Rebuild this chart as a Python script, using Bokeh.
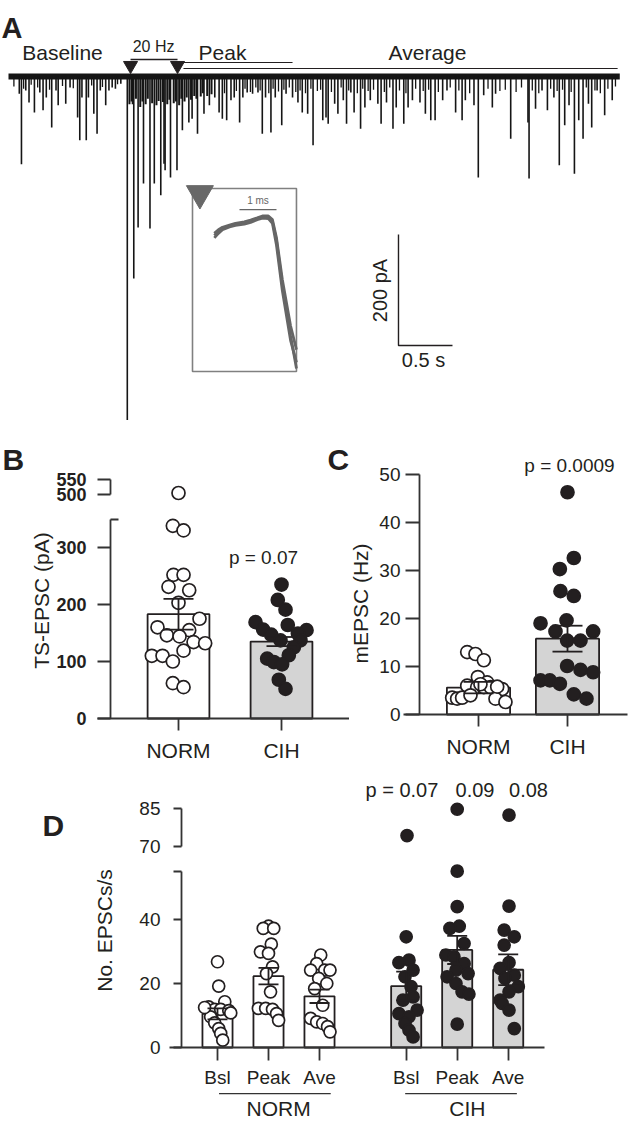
import math
from bokeh.plotting import figure
from bokeh.models import Range1d, LinearAxis, FixedTicker, Whisker, TeeHead, ColumnDataSource
from bokeh.layouts import column, row
from bokeh.embed import file_html
from bokeh.resources import INLINE
from bokeh.core.properties import value

# ======================= DATA =======================
# ---- Panel A: whole-cell recording (time s, inward current pA) ----
trace_end_s = 5.66
stim_times = [1.13, 1.565]          # first / last shock of the 20 Hz train
peak_window = [1.62, 2.63]
average_window = [1.62, 5.64]
event_t = [0.10, 0.12, 0.16, 0.19, 0.24, 0.29, 0.32, 0.35, 0.40, 0.44, 0.46, 0.53, 0.57,
           0.64, 0.66, 0.68, 0.72, 0.74, 0.79, 0.82, 0.85, 0.90, 0.93, 0.96, 0.99, 1.04,
           1.10, 1.16, 1.20, 1.25, 1.31, 1.35, 1.41, 1.44, 1.45, 1.50, 1.56, 1.61, 1.67,
           1.70, 1.75, 1.81, 1.86, 1.91, 1.95, 1.98, 2.02, 2.06, 2.09, 2.14, 2.17, 2.21,
           2.26, 2.31, 2.35, 2.38, 2.43, 2.47, 2.53, 2.57, 2.63, 2.68, 2.72, 2.77, 2.82,
           2.91, 2.94, 2.96, 3.02, 3.05, 3.10, 3.13, 3.17, 3.20, 3.26, 3.30, 3.35, 3.42,
           3.45, 3.50, 3.56, 3.59, 3.66, 3.70, 3.74, 3.81, 3.86, 3.91, 3.95, 4.02, 4.06,
           4.14, 4.20, 4.23, 4.31, 4.35, 4.40, 4.48, 4.51, 4.65, 4.81, 4.82, 4.88, 4.94,
           4.99, 5.05, 5.10, 5.15, 5.19, 5.24, 5.28, 5.32, 5.37, 5.40, 5.45, 5.52, 5.59]
event_pA = [31, 158, 25, 47, 65, 29, 61, 38, 92, 25, 52, 49, 20,
            74, 115, 38, 115, 38, 67, 103, 25, 52, 25, 20, 22, 13,
            619, 364, 272, 193, 274, 193, 214, 157, 169, 182, 169, 97, 83,
            76, 103, 67, 52, 38, 65, 76, 79, 43, 38, 83, 38, 29,
            31, 29, 103, 38, 101, 38, 88, 31, 38, 47, 65, 67, 124,
            79, 74, 85, 49, 67, 43, 85, 29, 65, 94, 56, 43, 49,
            85, 47, 94, 56, 85, 56, 43, 47, 67, 79, 79, 43, 25,
            65, 79, 43, 52, 182, 34, 56, 31, 112, 83, 184, 58, 25,
            61, 38, 160, 88, 52, 175, 79, 112, 49, 92, 25, 70, 43]
small_t = [0.05, 0.14, 0.21, 0.27, 0.38, 0.50, 0.60, 0.77, 0.87, 1.01, 2.00, 2.11, 2.19,
           2.24, 2.29, 2.33, 2.41, 2.45, 2.50, 2.55, 2.60, 2.66, 2.70, 2.75, 2.80, 2.86,
           2.89, 2.99, 3.08, 3.15, 3.23, 3.28, 3.33, 3.38, 3.48, 3.53, 3.62, 3.68, 3.77,
           3.84, 3.89, 3.98, 4.09, 4.17, 4.27, 4.44, 4.55, 4.60, 4.70, 4.75, 4.85, 4.91,
           5.02, 5.08, 5.13, 5.21, 5.35, 5.43, 5.48, 5.55, 5.62]
small_pA = [18, 22, 15, 20, 24, 17, 21, 16, 19, 14, 30, 26, 22,
            28, 20, 25, 30, 22, 27, 24, 20, 28, 25, 30, 22, 26,
            24, 28, 20, 25, 30, 22, 26, 24, 28, 20, 25, 30, 22,
            26, 24, 28, 20, 25, 30, 22, 26, 24, 28, 20, 25, 30,
            22, 26, 24, 28, 20, 25, 30, 22, 18]
train_t = [1.12, 1.14, 1.15, 1.18, 1.22, 1.24, 1.27, 1.29, 1.33, 1.37, 1.39, 1.43, 1.47,
           1.49, 1.53, 1.55, 1.58, 1.60, 1.63, 1.65, 1.69, 1.72, 1.74, 1.78, 1.80, 1.84, 1.88]
train_pA = [50, 45, 50, 40, 55, 45, 50, 40, 48, 52, 44, 46, 50,
            42, 48, 45, 52, 40, 45, 38, 42, 35, 40, 36, 30, 35, 32]
# inset: superimposed evoked responses (ms, a.u.)
inset_ms = [0.59, 0.70, 0.81, 1.00, 1.16, 1.40, 1.57, 1.75, 1.89, 2.05, 2.16, 2.27, 2.43, 2.65, 2.81]
inset_traces = [
    [74.3, 76.5, 78.1, 79.5, 80.3, 81.2, 82.0, 83.5, 84.2, 84.2, 82.0, 71.6, 47.0, 19.7, 1.6],
    [75.5, 77.5, 78.8, 80.0, 81.0, 81.8, 82.8, 84.0, 85.0, 85.0, 83.0, 73.0, 50.0, 25.0, 12.0],
    [73.0, 75.5, 77.5, 79.0, 79.8, 80.5, 81.5, 83.0, 83.8, 83.6, 81.0, 69.0, 44.0, 17.0, 5.0],
]
scalebar_pA = 200
scalebar_s = 0.5
inset_scale_ms = 1

# ---- Panel B: TS-EPSC amplitude (pA) ----
groups = ["NORM", "CIH"]
ts_mean = [183, 135]
ts_sem = [27, 8]
ts_norm = [505, 338, 330, 252, 252, 231, 225, 203, 175, 160, 155, 146, 144, 134, 132,
           110, 110, 119, 100, 62, 55]
ts_norm_dx = [0, -0.055, 0.049, -0.049, 0.049, -0.097, 0.104, 0, 0.204, -0.204, 0.104,
              -0.113, 0.010, 0.146, 0.259, -0.259, -0.155, 0.049, -0.055, -0.055, 0.049]
ts_cih = [235, 208, 191, 169, 156, 164, 155, 147, 149, 137, 137, 125, 111, 105, 99, 95, 68, 52]
ts_cih_dx = [0, -0.036, 0.039, -0.252, -0.178, 0.061, 0.243, -0.100, 0.159, -0.010, 0.184,
             0.120, 0.071, -0.139, -0.074, 0.006, -0.026, 0.039]
ts_p = "p = 0.07"

# ---- Panel C: mEPSC frequency (Hz) ----
mf_mean = [5.6, 15.8]
mf_sem = [1.2, 2.7]
mf_norm = [13.0, 12.6, 11.3, 7.8, 6.7, 6.0, 5.7, 5.7, 5.7, 5.3, 3.5, 3.3, 3.5, 4.0, 3.3, 2.6, 5.8, 6.3]
mf_norm_dx = [-0.127, -0.034, 0.060, -0.007, 0.097, -0.127, -0.015, 0.060, 0.135, 0.266,
              -0.296, -0.240, -0.184, -0.090, 0.191, 0.303, 0.210, 0.022]
mf_cih = [46.3, 32.6, 30.3, 25.7, 24.7, 19.0, 19.6, 17.3, 17.3, 15.4, 15.4, 10.1, 9.3, 8.8,
          7.1, 7.1, 6.4, 4.2, 3.3]
mf_cih_dx = [0, 0.071, -0.086, -0.079, 0.071, -0.303, -0.011, -0.135, 0.288, -0.004, 0.146,
             -0.004, 0.146, 0.288, -0.303, -0.199, -0.086, 0.071, 0.213]
mf_p = "p = 0.0009"

# ---- Panel D: EPSCs per second ----
phases = ["Bsl", "Peak", "Ave"]
ep_norm_mean = [10.5, 22.3, 16.0]
ep_norm_sem = [1.7, 2.6, 2.1]
ep_cih_mean = [19.2, 30.5, 24.3]
ep_cih_sem = [4.5, 4.4, 4.8]
ep_norm = [
    [26.8, 19.2, 14.3, 12.7, 11.9, 11.9, 11.5, 9.6, 7.7, 5.9, 4.4, 2.3, 12.5, 10.8],
    [37.9, 37.2, 37.2, 32.3, 29.9, 29.4, 25.2, 23.1, 17.4, 12.2, 12.2, 11.9, 10.6, 8.5],
    [28.9, 26.2, 24.2, 24.2, 24.2, 21.6, 20.0, 18.4, 13.2, 9.1, 8.0, 7.5, 6.5, 4.9],
]
ep_norm_dx = [
    [0, 0.024, 0.143, -0.174, -0.055, 0.063, 0.222, -0.135, -0.055, 0.024, 0.063, 0.103, -0.253, 0.26],
    [0, -0.103, 0.103, 0.055, -0.158, 0, 0.079, -0.040, 0.040, -0.198, -0.055, 0.079, 0.158, 0.198],
    [0.024, -0.055, 0.103, -0.174, 0.206, -0.016, 0.143, -0.095, 0.063, -0.174, -0.055, 0.063, 0.158, 0.206],
]
ep_cih = [
    [74.3, 34.6, 27.3, 26.5, 24.2, 22.1, 19.0, 15.8, 14.8, 11.7, 10.6, 9.6, 7.5, 5.4, 3.3],
    [84.7, 55.1, 44.0, 37.9, 37.2, 32.5, 28.9, 28.3, 26.2, 24.2, 23.1, 22.1, 20.0, 17.4, 16.7, 7.3],
    [82.4, 44.2, 36.7, 34.6, 32.0, 26.5, 24.7, 22.6, 21.6, 19.0, 17.4, 14.8, 13.8, 11.7, 5.9],
]
ep_cih_dx = [
    [0.016, 0, 0.055, -0.143, 0.135, -0.024, 0.095, 0.135, -0.063, 0.214, -0.143, 0.055, -0.024, 0.055, 0.135],
    [0, 0, 0, 0.040, -0.143, 0.135, -0.222, -0.063, 0.135, -0.024, 0.214, -0.198, -0.024, 0.095, 0.230, 0],
    [0.016, 0.016, -0.079, 0.119, -0.079, 0.016, -0.158, 0.119, -0.063, 0.198, 0.016, -0.158, -0.119, 0.016, 0.119],
]
ep_p = ["p = 0.07", "0.09", "0.08"]

# ======================= STYLE =======================
FONT = "Liberation Sans"
INK = "#231f20"
AXC = "#333333"
GREY_BAR = "#d4d4d4"


def make_fig(w, h, xr, yr):
    p = figure(width=w, height=h, x_range=Range1d(*xr), y_range=Range1d(*yr),
               x_axis_type=None, y_axis_type=None, toolbar_location=None,
               output_backend="svg", min_border=0)
    p.outline_line_color = None
    p.background_fill_color = "white"
    p.border_fill_color = "white"
    return p


def add_axis(p, side, loc, ticks, bounds, size, bold=False, tick_out=10, standoff=8,
             overrides=None, range_name=None, line=True, tick_in=0, ticks_visible=True):
    ax = LinearAxis(fixed_location=loc, bounds=bounds,
                    ticker=FixedTicker(ticks=ticks, minor_ticks=[]))
    if range_name:
        ax.y_range_name = range_name
    ax.axis_line_color = AXC if line else None
    ax.axis_line_width = 1.8
    ax.major_tick_line_color = AXC if (line or ticks_visible and tick_in) else None
    ax.major_tick_line_width = 1.8
    ax.major_tick_out = tick_out
    ax.major_tick_in = tick_in
    ax.minor_tick_line_color = None
    ax.major_label_text_font = FONT
    ax.major_label_text_font_size = f"{size}px"
    ax.major_label_text_font_style = "bold" if bold else "normal"
    ax.major_label_text_color = INK
    ax.major_label_standoff = standoff
    if overrides:
        ax.major_label_overrides = overrides
    p.add_layout(ax, side)
    return ax


def add_title_axis(p, loc, bounds, label, standoff):
    ax = LinearAxis(fixed_location=loc, bounds=bounds, ticker=FixedTicker(ticks=[], minor_ticks=[]),
                    axis_label=label, axis_line_color=None, major_tick_line_color=None,
                    minor_tick_line_color=None, major_tick_out=0, major_tick_in=0,
                    major_label_standoff=0, axis_label_standoff=standoff,
                    axis_label_text_font=FONT, axis_label_text_font_size="21px",
                    axis_label_text_font_style="normal", axis_label_text_color=INK)
    p.add_layout(ax, "left")


def txt(p, x, y, s, size, align="center", baseline="middle", bold=False, color=INK,
        angle=0.0, **kw):
    p.text(x=[x], y=[y], text=[s], text_font=value(FONT), text_font_size=f"{size}px",
           text_font_style="bold" if bold else "normal", text_align=align,
           text_baseline=baseline, text_color=color, angle=angle, **kw)


def points(p, xc, vals, dxs, filled, size, brk=None, scale=1.0):
    lo_x, lo_y, hi_x, hi_y = [], [], [], []
    for v, d in zip(vals, dxs):
        if brk is not None and v > brk:
            hi_x.append(xc + d * scale); hi_y.append(v)
        else:
            lo_x.append(xc + d * scale); lo_y.append(v)
    kw = dict(size=size, line_color=INK, line_width=1.7,
              fill_color=INK if filled else "white")
    if lo_x:
        p.scatter(lo_x, lo_y, **kw)
    if hi_x:
        p.scatter(hi_x, hi_y, y_range_name="up", **kw)


def whiskers(p, xs, means, sems, cap):
    src = ColumnDataSource(dict(x=xs, upper=[m + s for m, s in zip(means, sems)],
                                lower=[m - s for m, s in zip(means, sems)]))
    w = Whisker(source=src, base="x", upper="upper", lower="lower", line_color=INK,
                line_width=1.8, level="overlay",
                upper_head=TeeHead(size=cap, line_color=INK, line_width=1.8),
                lower_head=TeeHead(size=cap, line_color=INK, line_width=1.8))
    p.add_layout(w)


# ======================= PANEL A =======================
A_W, A_H = 630, 432
PX_S, PX_PA = 108.0, 0.555      # px per second, px per pA
A_X0, A_Y0 = 8, 76              # where t=0 / 0 pA sit in the panel
pA = make_fig(A_W, A_H, (-A_X0 / PX_S, (A_W - A_X0) / PX_S),
              ((A_Y0 - A_H) / PX_PA, A_Y0 / PX_PA))
pA.extra_x_ranges = {"ix": Range1d(-192 / 37.0, (A_W - 192) / 37.0)}
pA.extra_y_ranges = {"iy": Range1d((371 - A_H) / 1.83, 371 / 1.83)}

pA.line(x=[0, trace_end_s], y=[0, 0], line_width=6, line_color="#151515")
for ts, amps, lw in ((small_t, small_pA, 1.3), (train_t, train_pA, 2.0), (event_t, event_pA, 1.6)):
    pA.segment(x0=ts, y0=[0] * len(ts), x1=ts, y1=[-a for a in amps],
               line_color="#151515", line_width=lw)

# stimulus markers and analysis windows
pA.segment(x0=[stim_times[0]], y0=[30.6], x1=[stim_times[1]], y1=[30.6], line_color=INK, line_width=1.3)
pA.scatter(stim_times, [19.8, 19.8], marker="inverted_triangle", size=14, color=INK)
pA.segment(x0=[peak_window[0], average_window[0]], y0=[25.2, 14.4],
           x1=[peak_window[1], average_window[1]], y1=[25.2, 14.4], line_color=INK, line_width=1.2)
txt(pA, 0.50, 43.2, "Baseline", 21)
txt(pA, 1.343, 54.1, "20 Hz", 16)
txt(pA, 1.76, 43.2, "Peak", 21, align="left")
txt(pA, 3.88, 43.2, "Average", 21)
txt(pA, -0.065, 86.5, "A", 29, align="left", baseline="alphabetic", bold=True)

# scale bar
sb_t, sb_y = 3.611, -484.7
pA.line(x=[sb_t, sb_t, sb_t + scalebar_s], y=[sb_y + scalebar_pA, sb_y, sb_y],
        line_color=INK, line_width=1.4)
txt(pA, 3.44, -385.6, f"{scalebar_pA} pA", 20, angle=math.pi / 2)
txt(pA, 3.843, -511.7, f"{scalebar_s} s", 20)

# inset
GRAY = "#666666"
pA.quad(left=[0], right=[2.81], bottom=[0], top=[100], fill_color=None, line_color="#808080",
        line_width=1.6, x_range_name="ix", y_range_name="iy")
pA.multi_line(xs=[inset_ms] * len(inset_traces), ys=inset_traces, line_color=GRAY,
              line_width=2.8, x_range_name="ix", y_range_name="iy")
pA.scatter([0.2], [97.3], marker="inverted_triangle", size=27, color="#686868",
           x_range_name="ix", y_range_name="iy")
pA.segment(x0=[1.27], y0=[88.5], x1=[1.27 + inset_scale_ms], y1=[88.5], line_color=GRAY,
           line_width=1.2, x_range_name="ix", y_range_name="iy")
txt(pA, 1.77, 90.5, f"{inset_scale_ms} ms", 10, baseline="bottom", color=GRAY,
    x_range_name="ix", y_range_name="iy")

# ======================= PANEL B =======================
B_W, B_H = 349, 338
bcx, bpc, bpv, bpu = 178, 103.0, 0.57, 0.30
pB = make_fig(B_W, B_H, (-bcx / bpc, (B_W - bcx) / bpc), (-(B_H - 286) / bpv, 286 / bpv))
pB.extra_y_ranges = {"up": Range1d(500 - (B_H - 62) / bpu, 500 + 62 / bpu)}
bx = [0, 1]
pB.vbar(x=bx, top=ts_mean, bottom=0, width=0.60, fill_color=["white", GREY_BAR],
        line_color=INK, line_width=1.8)
points(pB, 0, ts_norm, ts_norm_dx, False, 13, brk=400)
points(pB, 1, ts_cih, ts_cih_dx, True, 13, brk=400)
whiskers(pB, bx, ts_mean, ts_sem, 30)
b_yloc = (110 - bcx) / bpc
add_axis(pB, "left", b_yloc, [0, 100, 200, 300], (0, 350), 18, bold=True,
         tick_out=13, standoff=11)
# break mark at the top of the lower segment (points inward)
add_axis(pB, "left", b_yloc, [350], (300, 350), 18, tick_out=0, tick_in=8, standoff=11,
         line=False, overrides={350: ""})
add_axis(pB, "left", b_yloc, [500, 550], (500, 550), 18, bold=True, tick_out=13,
         standoff=11, range_name="up")
add_title_axis(pB, b_yloc, (0, 414), "TS-EPSC (pA)", 58)
add_axis(pB, "below", 0, bx, ((97 - bcx) / bpc, (B_W - bcx) / bpc), 21, tick_out=12,
         standoff=8, overrides={0: groups[0], 1: groups[1]})
txt(pB, 0.825, 282.5, ts_p, 19)
txt(pB, (2 - bcx) / bpc, 454.4, "B", 30, align="left", baseline="alphabetic", bold=True)
txt(pB, (327 - bcx) / bpc, 454.4, "C", 30, align="left", baseline="alphabetic", bold=True)

# ======================= PANEL C =======================
C_W, C_H = 281, 338
ccx, cpc, cpv = 129, 89.0, 4.8
pC = make_fig(C_W, C_H, (-ccx / cpc, (C_W - ccx) / cpc), (-(C_H - 282) / cpv, 282 / cpv))
pC.vbar(x=bx, top=mf_mean, bottom=0, width=0.71, fill_color=["white", GREY_BAR],
        line_color=INK, line_width=1.8)
points(pC, 0, mf_norm, mf_norm_dx, False, 13)
points(pC, 1, mf_cih, mf_cih_dx, True, 13)
whiskers(pC, bx, mf_mean, mf_sem, 30)
c_yloc = (70 - ccx) / cpc
add_axis(pC, "left", c_yloc, [0, 10, 20, 30, 40, 50], (0, 50), 19, tick_out=14, standoff=5)
add_title_axis(pC, c_yloc, (0, 46.25), "mEPSC (Hz)", 48)
add_axis(pC, "below", 0, bx, ((54 - ccx) / cpc, (C_W - 3 - ccx) / cpc), 21, tick_out=12,
         standoff=8, overrides={0: groups[0], 1: groups[1]})
txt(pC, 1.022, 51.9, mf_p, 19)

# ======================= PANEL D =======================
D_W, D_H = 630, 354
dcx, dpc, dpv, dpu = 217, 5.1, 3.2, 2.533
pD = make_fig(D_W, D_H, (-dcx / dpc, (D_W - dcx) / dpc), (-(D_H - 277) / dpv, 277 / dpv))
pD.extra_y_ranges = {"up": Range1d(70 - (D_H - 76) / dpu, 70 + 76 / dpu)}
GROUP_STEP, CAT_STEP = 37, 10
norm_x = [0 * GROUP_STEP + i * CAT_STEP for i in range(3)]
cih_x = [1 * GROUP_STEP + i * CAT_STEP for i in range(3)]
pD.vbar(x=norm_x, top=ep_norm_mean, bottom=0, width=5.9, fill_color="white",
        line_color=INK, line_width=1.8)
pD.vbar(x=cih_x, top=ep_cih_mean, bottom=0, width=5.9, fill_color=GREY_BAR,
        line_color=INK, line_width=1.8)
for i in range(3):
    points(pD, norm_x[i], ep_norm[i], ep_norm_dx[i], False, 12, brk=60, scale=CAT_STEP)
    points(pD, cih_x[i], ep_cih[i], ep_cih_dx[i], True, 12, brk=60, scale=CAT_STEP)
whiskers(pD, norm_x + cih_x, ep_norm_mean + ep_cih_mean, ep_norm_sem + ep_cih_sem, 20)
d_yloc = (181 - dcx) / dpc
add_axis(pD, "left", d_yloc, [0, 20, 40, 55], (0, 55), 19, tick_out=8, standoff=13,
         overrides={55: ""})
add_axis(pD, "left", d_yloc, [70, 85], (70, 85), 19, tick_out=8, standoff=13, range_name="up")
add_title_axis(pD, d_yloc, (0, 73.1), "No. EPSCs/s", 66)
all_x = norm_x + cih_x
add_axis(pD, "below", 0, all_x, ((169 - dcx) / dpc, (544 - dcx) / dpc), 19, tick_out=13,
         standoff=6, overrides={x: phases[i % 3] for i, x in enumerate(all_x)})
g_lab_x = [norm_x[1] + 2, cih_x[1] + 2]
add_axis(pD, "below", -14.4, g_lab_x, "auto", 21, tick_out=0, standoff=3, line=False,
         overrides={g_lab_x[0]: groups[0], g_lab_x[1]: groups[1]})
pD.segment(x0=[norm_x[0] + 0.3, cih_x[0] - 0.2], y0=[-14.4, -14.4],
           x1=[norm_x[2] + 2.2, cih_x[2] + 1.7], y1=[-14.4, -14.4], line_color=AXC, line_width=1.2)
p_off = [6.3, 7.3, 7.8]
for i in range(3):
    txt(pD, cih_x[i] + p_off[i], 80.6, ep_p[i], 20, align="right")
txt(pD, (42 - dcx) / dpc, 69.4, "D", 30, align="left", baseline="alphabetic", bold=True)

layout = column(pA, row(pB, pC), pD)
open("out.html", "w").write(file_html(layout, INLINE))
